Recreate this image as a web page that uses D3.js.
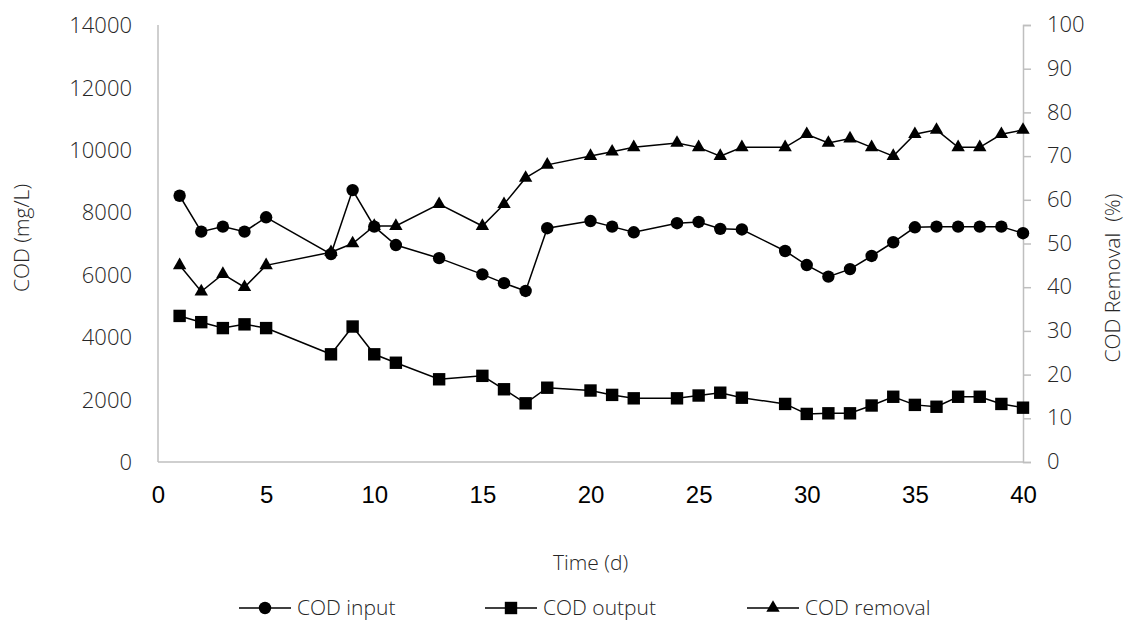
<!DOCTYPE html>
<html><head><meta charset="utf-8">
<script src="https://cdn.jsdelivr.net/npm/d3@7"></script>
<style>body{margin:0;background:#fff}svg{display:block}</style>
</head><body>
<svg id="chart" width="1135" height="621"></svg>
<script>
const days = [1,2,3,4,5,8,9,10,11,13,15,16,17,18,20,21,22,24,25,26,27,29,30,31,32,33,34,35,36,37,38,39,40];
const codInput = [8530,7380,7540,7380,7840,6660,8710,7540,6950,6530,6010,5730,5480,7490,7720,7540,7360,7650,7690,7470,7450,6760,6310,5940,6180,6600,7040,7520,7540,7540,7540,7540,7330];
const codOutput = [4680,4480,4290,4410,4290,3450,4340,3450,3180,2650,2760,2330,1880,2380,2290,2150,2040,2040,2130,2220,2060,1860,1540,1560,1560,1810,2090,1830,1770,2090,2090,1860,1740];
const codRemoval = [45,39,43,40,45,48,50,54,54,59,54,59,65,68,70,71,72,73,72,70,72,72,75,73,74,72,70,75,76,72,72,75,76];
const xTicks = [0,5,10,15,20,25,30,35,40];
const yLeftTicks = [0,2000,4000,6000,8000,10000,12000,14000];
const yRightTicks = [0,10,20,30,40,50,60,70,80,90,100];
const seriesNames = ["COD input","COD output","COD removal"];

const svg = d3.select("#chart");
const L = 158, R = 1023, T = 25, B = 462;
const x = d3.scaleLinear().domain([0,40]).range([L,R]);
const yL = d3.scaleLinear().domain([0,14000]).range([B,T]);
const yR = d3.scaleLinear().domain([0,100]).range([B,T]);
const axisColor = "#bfbfbf";
const lblFont = "'Open Sans', sans-serif";
const txtColor = "#262626";
const txtWeight = 300;

// axes lines
svg.append("line").attr("x1",L).attr("x2",L).attr("y1",T).attr("y2",B).attr("stroke",axisColor).attr("stroke-width",1.5);
svg.append("line").attr("x1",L).attr("x2",R).attr("y1",B).attr("y2",B).attr("stroke",axisColor).attr("stroke-width",1.5);

// right axis
const rightAxis = svg.append("g").attr("transform",`translate(${R},0)`)
  .call(d3.axisRight(yR).tickValues(yRightTicks).tickSize(8).tickPadding(16).tickFormat(d3.format("d")));
rightAxis.select(".domain").attr("stroke",axisColor).attr("stroke-width",1.5);
rightAxis.selectAll(".tick line").attr("stroke",axisColor).attr("stroke-width",1.5);
rightAxis.selectAll(".tick text").attr("font-family",lblFont).attr("font-weight",txtWeight).attr("font-size",22).attr("fill",txtColor).attr("dy","0.3em");

// left axis labels
const leftAxis = svg.append("g").attr("transform",`translate(${L},0)`)
  .call(d3.axisLeft(yL).tickValues(yLeftTicks).tickSize(0).tickPadding(26).tickFormat(d3.format("d")));
leftAxis.select(".domain").remove();
leftAxis.selectAll(".tick text").attr("font-family",lblFont).attr("font-weight",txtWeight).attr("font-size",22).attr("fill",txtColor).attr("dy","0.35em");

// bottom axis labels
const bottomAxis = svg.append("g").attr("transform",`translate(0,${B})`)
  .call(d3.axisBottom(x).tickValues(xTicks).tickSize(0).tickPadding(24).tickFormat(d3.format("d")));
bottomAxis.select(".domain").remove();
bottomAxis.selectAll(".tick text").attr("font-family","'Liberation Sans', Arial, sans-serif").attr("font-size",24).attr("fill","#000");

// titles
svg.append("text").attr("transform","translate(29,238) rotate(-90)").attr("text-anchor","middle")
  .attr("font-family",lblFont).attr("font-weight",txtWeight).attr("font-size",21).attr("fill",txtColor).text("COD (mg/L)");
svg.append("text").attr("transform","translate(1120,278) rotate(-90)").attr("text-anchor","middle")
  .attr("font-family",lblFont).attr("font-weight",txtWeight).attr("font-size",21).attr("fill",txtColor).style("white-space","pre").text("COD Removal  (%)");
svg.append("text").attr("x",(L+R)/2).attr("y",570).attr("text-anchor","middle")
  .attr("font-family",lblFont).attr("font-weight",txtWeight).attr("font-size",21).attr("fill",txtColor).text("Time (d)");

// series
const triangle = d3.symbol().type(d3.symbolTriangle).size(78);
function drawSeries(vals, yScale, shape){
  const pts = days.map((d,i)=>[x(d), yScale(vals[i])]);
  svg.append("path").attr("d",d3.line()(pts)).attr("fill","none").attr("stroke","#000").attr("stroke-width",1.5);
  const g = svg.append("g");
  pts.forEach(p=>drawMarker(g,p[0],p[1],shape));
}
function drawMarker(g,cx,cy,shape){
  if(shape==="circle") g.append("circle").attr("cx",cx).attr("cy",cy).attr("r",6.2).attr("fill","#000");
  else if(shape==="square") g.append("rect").attr("x",cx-6.2).attr("y",cy-6.2).attr("width",12.4).attr("height",12.4).attr("fill","#000");
  else g.append("path").attr("d",triangle()).attr("transform",`translate(${cx},${cy})`).attr("fill","#000");
}
drawSeries(codInput,yL,"circle");
drawSeries(codOutput,yL,"square");
drawSeries(codRemoval,yR,"triangle");

// legend
const legendX = [239,485,747];
const shapes = ["circle","square","triangle"];
const lg = svg.append("g");
seriesNames.forEach((n,i)=>{
  const lx = legendX[i], ly = 608;
  lg.append("line").attr("x1",lx).attr("x2",lx+52).attr("y1",ly).attr("y2",ly).attr("stroke","#000").attr("stroke-width",1.5);
  drawMarker(lg,lx+26,ly,shapes[i]);
  lg.append("text").attr("x",lx+58).attr("y",ly).attr("dy","0.35em").attr("font-family",lblFont).attr("font-weight",txtWeight)
    .attr("font-size",21).attr("fill",txtColor).text(n);
});
</script>
</body></html>
